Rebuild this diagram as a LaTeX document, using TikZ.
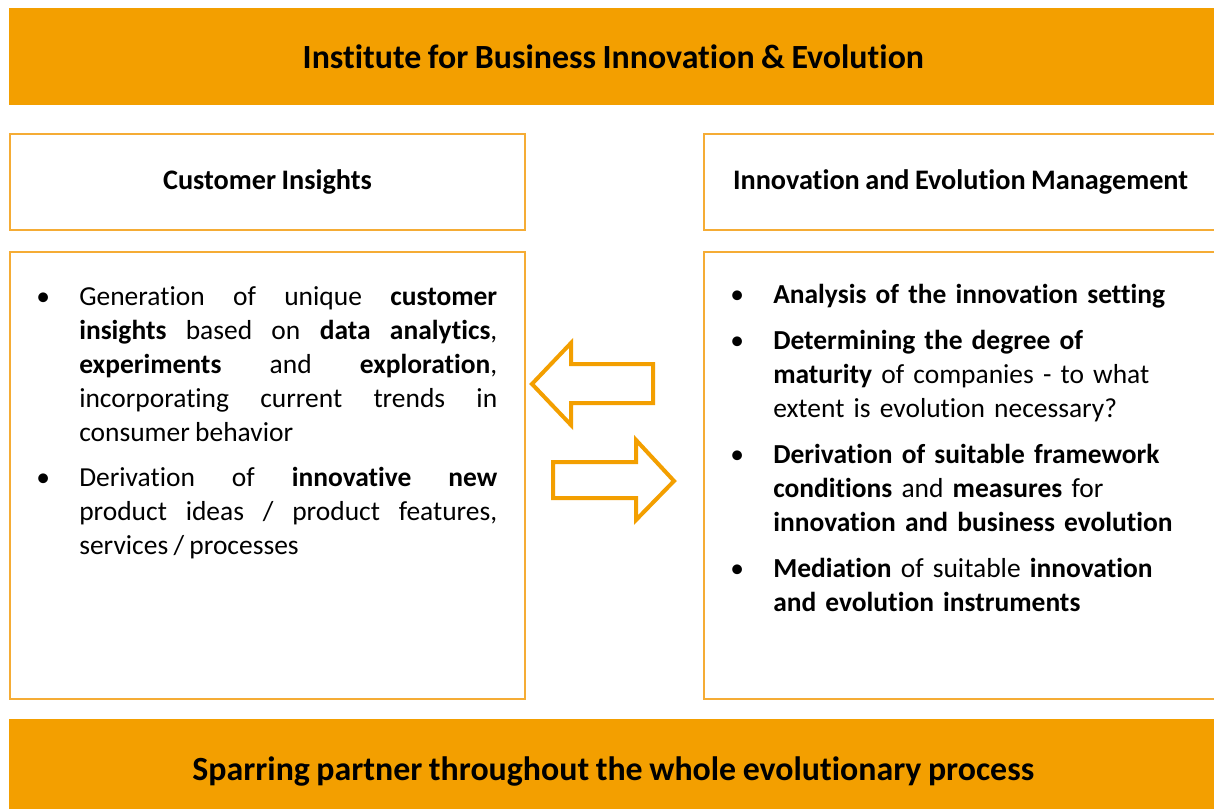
\documentclass[tikz,border=0pt]{standalone}
\usepackage{fontspec}
\setmainfont{Carlito}[Ligatures=NoCommon, WordSpace=0.85]
\newdimen\px \px=0.75pt
\definecolor{org}{HTML}{F39F00}
\definecolor{orgl}{HTML}{F5AC35}
\tikzset{
  bar/.style={fill=org, draw=none, anchor=north west, inner sep=0pt,
    font=\bfseries\fontsize{25.4pt}{30pt}\selectfont},
  boxframe/.style={draw=orgl, line width=2\px, fill=white, anchor=north west, inner sep=0pt},
  hdr/.style={font=\bfseries\fontsize{21.2pt}{25pt}\selectfont},
  body/.style={font=\fontsize{20.6pt}{25.5pt}\selectfont, inner sep=0pt, anchor=north west},
  blockarrow/.style={draw=org, line width=4\px, fill=white, line join=miter}
}
\newcommand{\bul}{\hangindent=43\px\hangafter=1\noindent\makebox[43\px][l]{\rule{0pt}{24\px}\textbullet}}
\begin{document}
\begin{tikzpicture}[x=0.75pt, y=-0.75pt]
\clip (0,0) rectangle (1214,809);
\fill[white] (0,0) rectangle (1214,809);
% bars
\node[bar, minimum width=1208\px, minimum height=97\px] (top) at (9,8) {\raisebox{-2\px}{Institute for Business Innovation \& Evolution}};
\node[bar, minimum width=1208\px, minimum height=104\px] (bottom) at (9,719) {\raisebox{-2\px}{Sparring partner throughout the whole evolutionary process}};
% headers
\node[boxframe, hdr, minimum width=515\px, minimum height=96\px] (lhead) at (9,133) {\raisebox{2\px}{Customer Insights}};
\node[boxframe, hdr, minimum width=513\px, minimum height=96\px] (rhead) at (703,133) {\raisebox{2\px}{Innovation and Evolution Management}};
% content boxes
\node[boxframe, minimum width=515\px, minimum height=447\px] (lbox) at (9,251) {};
\node[boxframe, minimum width=513\px, minimum height=447\px] (rbox) at (703,251) {};
% left text
\node[body, text width=461\px, align=justify] (ltext) at (36,281) {%
\bul Generation of unique \textbf{customer}\linebreak \textbf{insights} based on \textbf{data analytics},\linebreak \textbf{experiments} and \textbf{exploration},\linebreak incorporating current trends in\linebreak consumer behavior\par
\vspace{11\px}
\bul Derivation of \textbf{innovative new}\linebreak product ideas / product features,\linebreak services / processes\par};
% right text
\node[body, text width=484\px, align=left] (rtext) at (730,279) {%
\bul\textbf{Analysis of the innovation setting}\par
\vspace{12\px}
\bul\textbf{Determining the degree of}\newline \textbf{maturity} of companies - to what\newline extent is evolution necessary?\par
\vspace{12\px}
\bul\textbf{Derivation of suitable framework}\newline \textbf{conditions} and \textbf{measures} for\newline \textbf{innovation and business evolution}\par
\vspace{12\px}
\bul\textbf{Mediation} of suitable \textbf{innovation}\newline \textbf{and evolution instruments}\par};
% block arrows
\draw[blockarrow] (532,384) -- (571,343) -- (571,364) -- (653,364) -- (653,403) -- (571,403) -- (571,425) -- cycle;
\draw[blockarrow] (553,462) -- (636,462) -- (636,440) -- (674,481) -- (636,520) -- (636,498) -- (553,498) -- cycle;
\end{tikzpicture}
\end{document}
